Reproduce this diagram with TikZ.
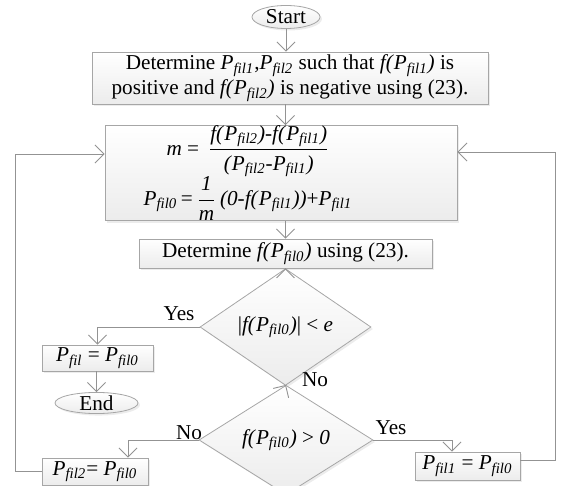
\documentclass[tikz,border=0pt]{standalone}
\usepackage{fontspec}
\setmainfont{Liberation Serif}
\usepackage{tikz}
\usetikzlibrary{positioning,arrows.meta,shapes.geometric,shadows}
\newcommand{\Pf}[1]{\textit{P}\textsubscript{\textit{fil#1}}}
\newcommand{\fP}[1]{\textit{f(}\Pf{#1}\textit{)}}
\tikzset{
  blk/.style={draw=gray!70, top color=white, bottom color=gray!15, drop shadow={shadow xshift=1pt, shadow yshift=-1pt, fill=gray!30}, inner sep=0pt, align=center, font=\fontsize{10.6}{12.5}\selectfont},
  term/.style={blk, ellipse},
  dec/.style={blk, diamond},
  arr/.style={draw=gray!85, line width=0.45pt, -{Straight Barb[length=4.5pt, width=9pt]}},
  lbl/.style={inner sep=0pt, font=\fontsize{10.6}{12}\selectfont},
}

\begin{document}
\begin{tikzpicture}[x=0.5pt, y=-0.5pt]
\useasboundingbox (0,0) rectangle (563,486);
% main column
\node[term, minimum width=34pt, minimum height=11.5pt] (start) at (286,17) {Start};
\node[blk, minimum width=198pt, minimum height=26pt] (box1) at (290,78) {Determine \Pf{1},\Pf{2} such that \fP{1} is\\ positive and \fP{2} is negative using (23).};
\node[blk, minimum width=176pt, minimum height=46pt] (box2) at (281,173) {\textit{m} = \,$\displaystyle\frac{\mbox{\fP{2}-\fP{1}}}{\mbox{\textit{(}\Pf{2}-\Pf{1}\textit{)}}}$\hspace*{33pt}\\[-1pt] \Pf{0}\,=\,$\displaystyle\frac{\mbox{\textit{1}}}{\mbox{\textit{m}}}$\,\textit{(0-f(}\Pf{1}\textit{))}+\Pf{1}\hspace*{33pt}};
\node[blk, minimum width=146.5pt, minimum height=14.5pt] (box3) at (285.5,253.5) {Determine \fP{0} using (23).};
\node[dec, minimum width=85.5pt, minimum height=42pt] (d1) at (285.5,327) {|\fP{0}| {<} \textit{e}};
\node[dec, minimum width=87pt, minimum height=42.5pt] (d2) at (286,440) {\fP{0} {>} \textit{0}};
% side branches
\node[blk, minimum width=55.5pt, minimum height=13pt] (box4) at (97.5,358) {\textit{P}\textsubscript{\textit{fil}} = \Pf{0}};
\node[term, minimum width=41.5pt, minimum height=10pt] (end) at (96.5,403) {End};
\node[blk, minimum width=53pt, minimum height=13.5pt] (box5) at (95,471.5) {\Pf{2}= \Pf{0}};
\node[blk, minimum width=52.5pt, minimum height=14pt] (box6) at (467.5,466) {\Pf{1} = \Pf{0}};
% labels
\node[lbl] (yes1) at (179,314) {Yes};
\node[lbl] (no1) at (315,380) {No};
\node[lbl] (no2) at (189,433) {No};
\node[lbl] (yes2) at (391,428) {Yes};
% connectors
\draw[arr] (start.south) -- (start.south |- box1.north);
\draw[arr] (box1.south -| d1.north) -- (box2.north -| d1.north);
\draw[arr] (box2.south -| d1.north) -- (box3.north -| d1.north);
\draw[arr] (box3.south -| d1.north) -- (d1.north);
\draw[arr] (d1.south) -- (d2.north);
\draw[arr] (d1.west) -| (box4.north);
\draw[arr] (box4.south -| end.north) -- (end.north);
\draw[arr] (d2.west) -| ([xshift=16.5pt]box5.north);
\draw[arr] (d2.east) -| ([xshift=-7.75pt]box6.north);
\draw[arr] (box5.west) -| (15,154) -- ([yshift=9.5pt]box2.west);
\draw[arr] ([yshift=3pt]box6.east) -| (555,152) -- ([yshift=10.5pt]box2.east);
\end{tikzpicture}
\end{document}
